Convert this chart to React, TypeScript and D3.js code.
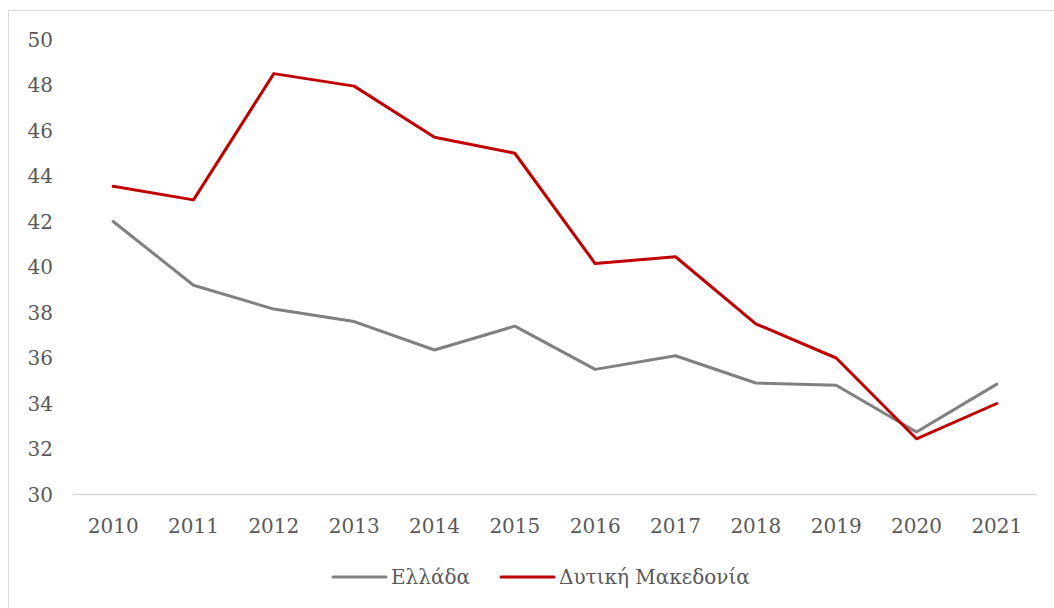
import { useEffect, useRef } from "react";
import * as d3 from "d3";

const years = ["2010", "2011", "2012", "2013", "2014", "2015", "2016", "2017", "2018", "2019", "2020", "2021"];
const ellada = [42.0, 39.2, 38.15, 37.6, 36.35, 37.4, 35.5, 36.1, 34.9, 34.8, 32.75, 34.85];
const dytikiMakedonia = [43.55, 42.95, 48.5, 47.95, 45.7, 45.0, 40.15, 40.45, 37.5, 36.0, 32.45, 34.0];
const yTicks = [30, 32, 34, 36, 38, 40, 42, 44, 46, 48, 50];

const series = [
  { name: "Ελλάδα", values: ellada, color: "#808080" },
  { name: "Δυτική Μακεδονία", values: dytikiMakedonia, color: "#C00000" },
];

const W = 1054;
const H = 608;
const FONT = "'DejaVu Serif', serif";
const FS = 20;

export default function App() {
  const svgRef = useRef<SVGSVGElement>(null);

  useEffect(() => {
    if (!svgRef.current) return;
    const svg = d3.select(svgRef.current);
    svg.selectAll("*").remove();

    const left = 73;
    const right = 1037;
    const top = 39.5;
    const bottom = 494.5;

    // chart border
    svg
      .append("rect")
      .attr("x", 8.5)
      .attr("y", 10.5)
      .attr("width", 1200)
      .attr("height", 800)
      .attr("fill", "#fff")
      .attr("stroke", "#d9d9d9")
      .attr("stroke-width", 1);

    const x = d3.scaleBand().domain(years).range([left, right]);
    const y = d3.scaleLinear().domain([30, 50]).range([bottom, top]);

    // y labels
    svg
      .append("g")
      .selectAll("text")
      .data(yTicks)
      .join("text")
      .attr("x", 53)
      .attr("y", (d) => y(d))
      .attr("dy", "0.36em")
      .attr("text-anchor", "end")
      .attr("font-family", FONT)
      .attr("font-size", FS)
      .attr("fill", "#595959")
      .text((d) => d);

    // x axis line
    svg
      .append("line")
      .attr("x1", left)
      .attr("x2", right)
      .attr("y1", bottom)
      .attr("y2", bottom)
      .attr("stroke", "#d9d9d9")
      .attr("stroke-width", 1.5);

    // x labels
    svg
      .append("g")
      .selectAll("text")
      .data(years)
      .join("text")
      .attr("x", (d) => x(d)! + x.bandwidth() / 2)
      .attr("y", 533)
      .attr("text-anchor", "middle")
      .attr("font-family", FONT)
      .attr("font-size", FS)
      .attr("fill", "#595959")
      .text((d) => d);

    const line = d3
      .line<number>()
      .x((_d, i) => x(years[i])! + x.bandwidth() / 2)
      .y((d) => y(d));

    series.forEach((s) => {
      svg
        .append("path")
        .datum(s.values)
        .attr("d", line)
        .attr("fill", "none")
        .attr("stroke", s.color)
        .attr("stroke-width", 3)
        .attr("stroke-linejoin", "round")
        .attr("stroke-linecap", "round");
    });

    // legend
    const legendX = [333, 501];
    series.forEach((s, i) => {
      const g = svg.append("g").attr("transform", `translate(${legendX[i]},577)`);
      g.append("line")
        .attr("x1", 0)
        .attr("x2", 53)
        .attr("stroke", s.color)
        .attr("stroke-width", 3)
        .attr("stroke-linecap", "round");
      g.append("text")
        .attr("x", 58)
        .attr("dy", "0.36em")
        .attr("font-family", FONT)
        .attr("font-size", FS)
        .attr("fill", "#595959")
        .text(s.name);
    });
  }, []);

  return (
    <svg
      ref={svgRef}
      width={W}
      height={H}
      style={{ position: "absolute", left: 0, top: 0 }}
    />
  );
}
